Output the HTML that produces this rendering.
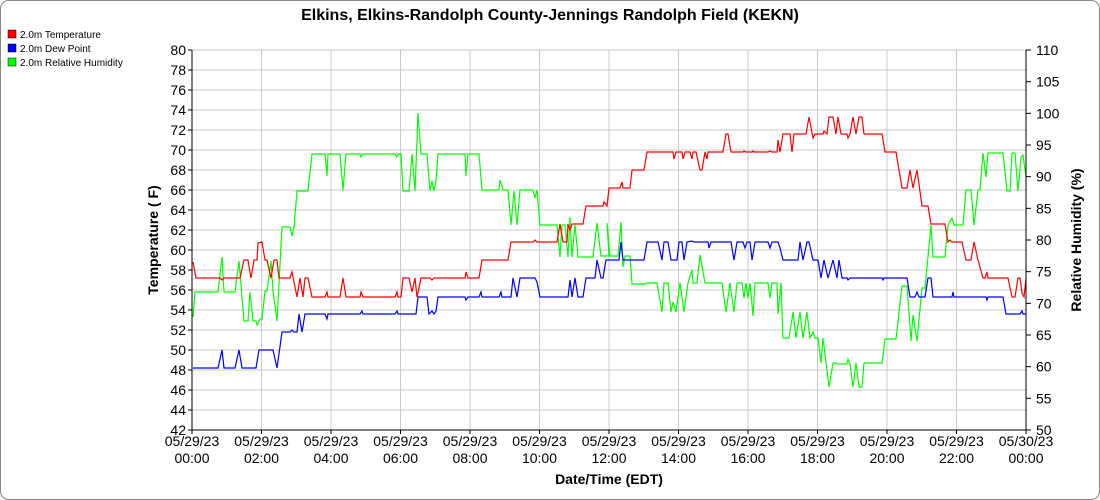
<!DOCTYPE html>
<html><head><style>body{margin:0;background:#fff}svg{display:block;font-family:"Liberation Sans",sans-serif}</style></head><body>
<svg width="1100" height="500" xmlns="http://www.w3.org/2000/svg">
<rect x="0.5" y="0.5" width="1099" height="499" rx="8" fill="#fff" stroke="#888"/>
<text x="550" y="20" text-anchor="middle" font-size="16" font-weight="bold">Elkins, Elkins-Randolph County-Jennings Randolph Field (KEKN)</text>
<rect x="8" y="30" width="8" height="8" fill="#f00" stroke="#000" stroke-width="0.5"/><text x="20" y="38" font-size="10">2.0m Temperature</text>
<rect x="8" y="44" width="8" height="8" fill="#00f" stroke="#000" stroke-width="0.5"/><text x="20" y="52" font-size="10">2.0m Dew Point</text>
<rect x="8" y="58" width="8" height="8" fill="#0f0" stroke="#000" stroke-width="0.5"/><text x="20" y="66" font-size="10">2.0m Relative Humidity</text>
<g id="grid" stroke="#c8c8c8" stroke-width="1"></g>
<g id="labels" font-size="14"></g>
<polyline fill="none" stroke="#0f0" stroke-width="1.2" points="193,317 195,292 218,292 222,257 224,292 235,292 239,261 244,321 248,321 250,292 253,321 256,321 257,325 260,319 262,319 265,291 267,291 271,261 273,291 277,321 282,227 290,227 292,236 294,227 297,191 308,191 312,154 325,154 327,176 328,154 340,154 343,190 346,154 360,154 361,157 363,154 395,154 397,157 398,154 401,154 403,191 409,191 412,154 415,191 418,113 421,154 427,154 430,191 432,181 434,191 436,181 438,154 465,154 466,176 468,154 479,154 482,190 499,190 500,180 503,190 508,190 511,225 514,191 517,225 520,190 533,190 535,198 537,190 540,225 557,225 560,257 562,225 565,225 568,257 570,217 572,257 575,225 578,257 593,257 597,223 601,256 610,256 607,223 609,256 618,256 621,222 623,267 625,256 630,256 632,284 645,284 647,283 657,283 662,312 664,283 668,283 671,312 673,302 676,312 680,283 684,312 688,283 692,270 693,283 697,283 700,255 705,283 722,283 726,312 730,283 734,312 737,283 742,283 744,298 746,283 748,298 750,283 753,316 755,283 768,283 770,298 772,283 777,283 778,314 781,283 783,338 789,338 793,312 796,338 800,312 803,338 807,312 810,338 813,332 815,338 818,338 821,363 823,338 829,387 833,363 836,363 838,364 847,364 848,359 850,364 853,387 856,363 859,387 862,387 864,363 882,363 885,339 896,339 902,286 907,286 911,341 913,315 917,341 922,288 925,288 931,225 933,257 945,257 948,225 952,218 954,225 963,225 966,190 971,190 974,225 978,190 980,190 983,153 986,177 988,153 1003,153 1007,191 1010,191 1012,153 1015,153 1018,191 1021,157 1023,155 1026,177"/>
<polyline fill="none" stroke="#00f" stroke-width="1.2" points="193,368 218,368 222,350 224,368 235,368 239,350 242,368 256,368 259,350 273,350 277,368 282,332 290,332 292,330 294,332 297,332 299,314 302,332 305,314 325,314 327,319 328,314 360,314 362,311 363,314 395,314 397,311 398,314 416,314 418,297 427,297 429,314 432,311 434,314 436,311 438,297 465,297 466,300 468,297 479,297 481,292 482,297 499,297 501,292 502,297 511,297 513,278 517,297 520,278 535,278 537,282 540,297 568,297 570,280 572,297 575,278 578,297 583,297 586,278 595,278 597,260 601,278 603,278 606,260 619,260 621,242 623,260 644,260 647,242 658,242 662,260 664,242 668,242 671,260 677,260 679,242 682,242 684,260 687,242 692,241 694,242 708,242 709,248 711,242 731,242 734,260 737,242 743,242 745,248 747,242 750,242 752,260 755,242 768,242 770,248 772,242 778,242 780,248 783,260 798,260 800,242 803,260 807,242 809,242 813,260 818,260 821,278 824,260 828,278 833,260 837,278 839,260 842,278 847,278 848,280 850,278 882,278 883,280 884,278 907,278 910,297 915,297 917,292 919,297 925,297 928,278 931,278 933,297 952,297 953,292 954,297 986,297 987,300 988,297 1003,297 1006,314 1020,314 1022,311 1023,314 1026,314"/>
<polyline fill="none" stroke="#f00" stroke-width="1.2" points="193,262 196,278 220,278 222,280 224,278 240,278 244,260 248,260 251,278 254,260 257,260 258,243 262,242 265,260 267,260 271,278 274,260 277,260 279,278 290,278 292,272 297,297 300,278 303,297 305,278 308,278 312,297 325,297 327,292 328,297 340,297 343,278 346,297 360,297 361,292 363,297 395,297 397,292 398,297 401,297 403,278 409,278 412,292 415,278 417,297 421,278 430,278 432,280 434,278 465,278 466,272 468,278 479,278 482,260 508,260 511,242 533,242 535,240 537,242 557,242 560,224 563,242 567,242 568,224 570,230 572,224 583,224 586,206 603,206 604,202 607,206 609,188 620,188 622,182 623,188 630,188 632,170 644,170 647,152 673,152 674,159 676,152 682,152 683,159 685,152 690,152 692,159 693,152 696,152 700,170 702,170 705,152 707,159 708,152 723,152 726,134 728,134 731,152 743,152 744,151 746,152 752,152 753,151 754,152 768,152 770,151 772,152 777,152 778,140 780,152 783,134 790,134 792,152 794,134 806,134 809,117 813,138 815,134 823,134 824,131 827,134 829,117 833,117 836,134 838,117 841,134 847,134 848,138 850,134 853,117 856,134 859,117 862,117 864,134 882,134 885,152 896,152 902,188 907,188 910,170 913,188 917,170 922,206 928,206 931,224 945,224 948,242 950,240 952,242 962,242 966,260 971,260 974,242 978,260 983,278 985,278 987,272 988,278 1008,278 1012,297 1015,297 1018,278 1020,278 1022,293 1024,297 1026,278"/>
<line x1="192" y1="50" x2="192" y2="430" stroke="#000"/>
<line x1="1026" y1="50" x2="1026" y2="430" stroke="#000"/>
<line x1="192" y1="430" x2="1026" y2="430" stroke="#000"/>
<text transform="translate(158,240) rotate(-90)" text-anchor="middle" font-size="14" font-weight="bold">Temperature ( F)</text>
<text transform="translate(1081,240) rotate(-90)" text-anchor="middle" font-size="14" font-weight="bold">Relative Humidity (%)</text>
<text x="609" y="484" text-anchor="middle" font-size="14" font-weight="bold">Date/Time (EDT)</text>
</svg>
<script>
var ns="http://www.w3.org/2000/svg",g=document.getElementById("grid"),L=document.getElementById("labels");
function el(p,t,a,txt){var e=document.createElementNS(ns,t);for(var k in a)e.setAttribute(k,a[k]);if(txt!=null)e.textContent=txt;p.appendChild(e);return e;}
for(var i=0;i<=19;i++){var y=50+i*20;el(g,"line",{x1:192,x2:1026,y1:y,y2:y});el(L,"line",{x1:188,x2:192,y1:y,y2:y,stroke:"#000"});el(L,"text",{x:186,y:y+5,"text-anchor":"end"},80-2*i);}
for(var j=0;j<=12;j++){var y=50+j*380/12;el(L,"line",{x1:1026,x2:1031,y1:y,y2:y,stroke:"#000"});el(L,"text",{x:1036,y:y+5},110-5*j);}
for(var h=0;h<=12;h++){var x=192+h*69.5;el(g,"line",{x1:x,x2:x,y1:50,y2:430});el(L,"line",{x1:x,x2:x,y1:430,y2:434,stroke:"#000"});
var d=h==12?"05/30/23":"05/29/23",hh=(h==12?0:h*2);hh=(hh<10?"0":"")+hh+":00";
el(L,"text",{x:x,y:446,"text-anchor":"middle"},d);el(L,"text",{x:x,y:463,"text-anchor":"middle"},hh);}
</script>
</body></html>
